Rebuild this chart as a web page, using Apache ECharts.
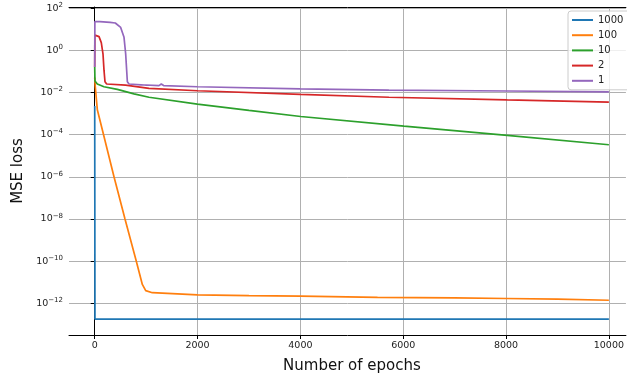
<!DOCTYPE html>
<html><head><meta charset="utf-8">
<script src="https://cdn.jsdelivr.net/npm/echarts@6/dist/echarts.min.js"></script>
<style>html,body{margin:0;padding:0;background:#fff}#c{width:627px;height:379px}</style>
</head><body><div id="c"></div>
<script>
// ---- data ----
const seriesNames = ['1000', '100', '10', '2', '1'];
const xTicks = [0, 2000, 4000, 6000, 8000, 10000];
const yTicks = [1e-12, 1e-10, 1e-8, 1e-6, 1e-4, 1e-2, 1, 1e2];
// visible x range (the reference image is cropped at the right edge)
const xMin = -500, xMax = 10331;
const yMin = 3.16e-14, yMax = 112;

const epochs1000 = [0, 5, 10000];
const loss1000   = [2.3e-3, 1.8e-13, 1.8e-13];

const epochs100 = [0, 10, 51, 148, 375, 589, 809, 926, 992, 1120, 2000, 3000, 4000, 5500, 7000, 8000, 9000, 10000];
const loss100   = [0.05, 0.02, 1.5e-3, 1.7e-4, 1e-6, 1e-8, 1e-10, 7.9e-12, 4e-12, 3.2e-12, 2.5e-12, 2.3e-12, 2.2e-12, 1.9e-12, 1.8e-12, 1.7e-12, 1.6e-12, 1.4e-12];

const epochs10 = [0, 5, 16, 50, 180, 440, 764, 1056, 1996, 3000, 4006, 6014, 8023, 10000];
const loss10   = [0.16, 0.035, 0.032, 0.025, 0.0186, 0.014, 0.0085, 0.0059, 0.0028, 1.4e-3, 7.2e-4, 2.5e-4, 9.1e-5, 3.3e-5];

const epochs2 = [0, 3, 19, 84, 128, 161, 181, 200, 233, 600, 1056, 2000, 4000, 5722, 8023, 10000];
const loss2   = [0.16, 5.2, 5.5, 4.4, 2.3, 0.68, 0.11, 0.032, 0.025, 0.022, 0.0155, 0.012, 0.0081, 0.0059, 0.0044, 0.0035];

const epochs1 = [0, 3, 100, 300, 400, 505, 570, 602, 635, 667, 900, 960, 978, 1000, 1250, 1295, 1340, 2000, 4000, 5722, 8023, 10000];
const loss1   = [0.16, 23, 22.5, 21, 19.5, 12, 4.1, 0.68, 0.032, 0.025, 0.023, 0.0225, 0.027, 0.0224, 0.021, 0.025, 0.0212, 0.0186, 0.0148, 0.0129, 0.0117, 0.0105];

const colors = ['#1f77b4', '#ff7f0e', '#2ca02c', '#d62728', '#9467bd'];

// ---- build ----
const xs = [epochs1000, epochs100, epochs10, epochs2, epochs1];
const ys = [loss1000, loss100, loss10, loss2, loss1];
const pair = (a, b) => a.map((v, i) => [v, b[i]]);
const FONT = 'DejaVu Sans';

const chart = echarts.init(document.getElementById('c'), null, {renderer: 'canvas'});
chart.setOption({
  animation: false,
  backgroundColor: '#fff',
  color: colors,
  grid: {left: 69, top: 7, right: 0, bottom: 41, show: false},
  legend: {
    data: seriesNames,
    orient: 'vertical',
    left: 568, top: 11,
    icon: 'rect',
    itemWidth: 21, itemHeight: 2, itemGap: 3.2, itemTextGap: 7,
    padding: [3, 8, 3, 4],
    backgroundColor: 'rgba(255,255,255,0.8)',
    borderColor: '#ccc', borderWidth: 1, borderRadius: 3,
    textStyle: {fontFamily: FONT, fontSize: 10, color: '#222', lineHeight: 12}
  },
  xAxis: [{
    type: 'value', min: xMin, max: xMax,
    name: 'Number of epochs', nameLocation: 'middle', nameGap: 24,
    nameTextStyle: {fontFamily: FONT, fontSize: 15, color: '#111', padding: [0, 0, 0, 9]},
    axisLine: {onZero: false, lineStyle: {color: '#000', width: 1}},
    axisTick: {show: true, length: 4, lineStyle: {color: '#000'}, customValues: xTicks},
    axisLabel: {fontFamily: FONT, fontSize: 9.5, color: '#222', margin: 6, customValues: xTicks, formatter: v => String(v)},
    splitLine: {show: true, lineStyle: {color: '#b0b0b0', width: 1}, customValues: xTicks}
  }, {
    type: 'value', position: 'top', min: xMin, max: xMax,
    axisLine: {onZero: false, lineStyle: {color: '#000', width: 1}},
    axisTick: {show: false}, axisLabel: {show: false}, splitLine: {show: false}
  }],
  yAxis: {
    type: 'log', logBase: 10, min: yMin, max: yMax,
    name: 'MSE loss', nameLocation: 'middle', nameGap: 38, nameRotate: 90,
    nameTextStyle: {fontFamily: FONT, fontSize: 15, color: '#111'},
    axisLine: {lineStyle: {color: '#000', width: 1}},
    axisTick: {show: true, length: 4, lineStyle: {color: '#000'}, customValues: yTicks},
    splitLine: {show: true, lineStyle: {color: '#b0b0b0', width: 1}, customValues: yTicks},
    axisLabel: {
      customValues: yTicks, margin: 6, color: '#222', fontFamily: FONT, fontSize: 9.5,
      formatter: v => {
        const e = Math.round(Math.log10(v));
        return '10{s|' + (e < 0 ? '\u2212' + (-e) : e) + '}';
      },
      rich: {s: {fontFamily: FONT, fontSize: 7, color: '#222', verticalAlign: 'top', padding: [0, 0, 6, 0]}}
    }
  },
  series: seriesNames.map((n, i) => ({
    name: n, type: 'line', data: pair(xs[i], ys[i]),
    showSymbol: false, symbol: 'none', smooth: false,
    lineStyle: {width: 1.7, color: colors[i]}, itemStyle: {color: colors[i]},
    z: 2 + i
  }))
});
</script></body></html>
